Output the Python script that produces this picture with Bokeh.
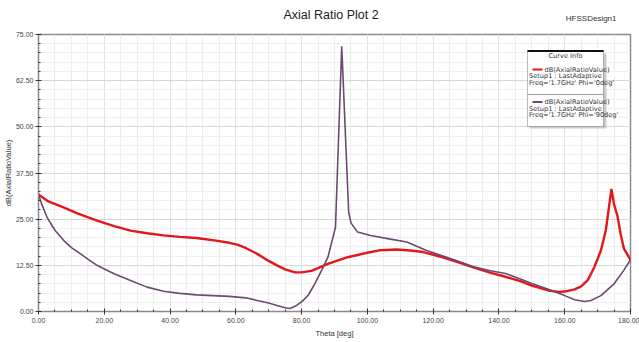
from bokeh.plotting import figure
from bokeh.models import (FixedTicker, PrintfTickFormatter, Label, BoxAnnotation, Range1d)
from bokeh.embed import file_html
from bokeh.resources import INLINE

# Data (theta in deg, dB(AxialRatioValue))
theta_phi0 = [0, 3, 7.6, 12, 17.8, 23, 28, 33, 38, 43, 48, 54, 58, 60.4, 63, 66.5, 70, 72.5, 75, 78, 80,
              83, 88, 94, 100, 104, 109, 113, 117, 122, 127, 132, 137, 142, 146.5, 150, 155, 158, 160,
              163, 165, 167, 169, 171, 172.5, 174.2, 175, 176, 177, 178, 180]
ar_phi0 = [31.7, 29.8, 28.2, 26.5, 24.6, 23.1, 21.9, 21.2, 20.6, 20.2, 19.9, 19.2, 18.6, 18.1, 17.2, 15.6,
           13.7, 12.5, 11.4, 10.6, 10.6, 11.0, 12.9, 14.7, 15.9, 16.6, 16.8, 16.5, 16.1, 14.9, 13.5, 12.0,
           10.6, 9.4, 8.2, 7.0, 5.7, 5.3, 5.4, 6.0, 6.8, 8.5, 12.0, 16.5, 22.0, 33.2, 29.0, 26.0, 21.0,
           17.0, 14.0]

theta_phi90 = [0, 1, 2.6, 5, 7.7, 10, 12.8, 15, 17.8, 20, 23, 28, 33, 38, 43, 48, 53, 58, 63, 66.5, 70,
               72.5, 75, 76.5, 78, 80, 82, 84, 86, 88, 90.3, 92.2, 94.3, 95, 97, 101, 107, 112, 118, 123,
               127, 132, 137, 142, 146.5, 150, 155, 160, 163, 166, 168, 171, 175, 178, 180]
ar_phi90 = [31.7, 29.0, 25.5, 22.0, 19.2, 17.3, 15.6, 14.2, 12.5, 11.5, 10.2, 8.4, 6.6, 5.5, 4.9, 4.5,
            4.3, 4.1, 3.7, 3.0, 2.3, 1.6, 1.0, 0.8, 1.4, 2.6, 4.4, 7.5, 11.0, 14.7, 22.8, 71.8, 27.0,
            24.0, 21.5, 20.6, 19.6, 18.8, 16.5, 15.0, 13.8, 12.2, 11.1, 10.3, 8.8, 7.6, 6.0, 4.3, 3.2,
            2.7, 3.0, 4.3, 7.5, 11.2, 14.0]

x_major = [0, 20, 40, 60, 80, 100, 120, 140, 160, 180]
x_minor = [v for v in range(0, 181, 5)]
y_major = [0, 12.5, 25, 37.5, 50, 62.5, 75]
y_minor = [i * 2.5 for i in range(0, 31)]

title_text = "Axial Ratio Plot 2"
design_text = "HFSSDesign1"
x_label = "Theta [deg]"
y_label = "dB(AxialRatioValue)"
legend_title = "Curve Info"
legend_lines_0 = ["dB(AxialRatioValue)", "Setup1 : LastAdaptive", "Freq='1.7GHz' Phi='0deg'"]
legend_lines_90 = ["dB(AxialRatioValue)", "Setup1 : LastAdaptive", "Freq='1.7GHz' Phi='90deg'"]

RED = "#e3161c"
PURPLE = "#6a4a6e"
FONT = "Liberation Sans"
LFONT = "DejaVu Sans"

p = figure(width=639, height=342, output_backend="svg", toolbar_location=None,
           x_range=Range1d(0, 180), y_range=Range1d(0, 75),
           min_border_left=38, min_border_right=9, min_border_top=34, min_border_bottom=31)
p.background_fill_color = "white"
p.border_fill_color = "white"
p.outline_line_color = "#8a8a8a"
p.outline_line_width = 1.5

# title
p.title.text = title_text
p.title.align = "left"
p.title.offset = 245
p.title.text_font = FONT
p.title.text_font_size = "12.5px"
p.title.text_font_style = "normal"
p.title.text_color = "#222222"
p.title.standoff = 8

# axes
p.xaxis.ticker = FixedTicker(ticks=x_major, minor_ticks=x_minor)
p.yaxis.ticker = FixedTicker(ticks=y_major, minor_ticks=y_minor)
for ax in (p.xaxis, p.yaxis):
    ax.formatter = PrintfTickFormatter(format="%.2f")
    ax.major_label_text_font = FONT
    ax.major_label_text_font_size = "7px"
    ax.major_label_text_color = "#444444"
    ax.axis_line_color = "#8a8a8a"
    ax.major_tick_line_color = "#333333"
    ax.minor_tick_line_color = "#333333"
    ax.major_tick_in = 3
    ax.major_tick_out = 3
    ax.minor_tick_in = 2
    ax.minor_tick_out = 0
    ax.axis_label_text_font = FONT
    ax.axis_label_text_font_size = "7.5px"
    ax.axis_label_text_font_style = "normal"
    ax.axis_label_text_color = "#333333"
p.xaxis.major_label_standoff = 3
p.xaxis.axis_label = x_label
p.xaxis.axis_label_standoff = 3
p.yaxis.major_label_standoff = 2
p.yaxis.axis_label = y_label
p.yaxis.axis_label_standoff = 0

# grid
p.xgrid.ticker = FixedTicker(ticks=x_major, minor_ticks=x_minor)
p.ygrid.ticker = FixedTicker(ticks=y_major, minor_ticks=y_minor)
p.xgrid.grid_line_color = "#e2e2e2"
p.ygrid.grid_line_color = "#d6d6d6"
p.xgrid.minor_grid_line_color = "#ededed"
p.ygrid.minor_grid_line_color = "#efefef"

# curves
p.line(theta_phi0, ar_phi0, line_color=RED, line_width=2.4)
p.line(theta_phi90, ar_phi90, line_color=PURPLE, line_width=1.6)

# "Curve Info" box (screen units relative to the plot frame)
def sbox(left, right, bottom, top, **kw):
    p.add_layout(BoxAnnotation(left=left, right=right, bottom=bottom, top=top,
                               left_units="screen", right_units="screen",
                               bottom_units="screen", top_units="screen", **kw))

def slabel(x, y, text, size="6.6px", align="left", font=LFONT):
    p.add_layout(Label(x=x, y=y, x_units="screen", y_units="screen", text=text,
                       text_font=font, text_font_size=size, text_color="#333333",
                       text_align=align, text_baseline="middle"))

sbox(491, 568, 183, 258, fill_color="#bdbdbd", fill_alpha=0.8, line_alpha=0)  # shadow
sbox(489, 565, 185, 261, fill_color="white", fill_alpha=1.0, line_color="#222222", line_width=1)
sbox(489, 565, 259.5, 261.5, fill_color="#111111", fill_alpha=1.0, line_alpha=0)  # thick top edge
sbox(489, 565, 216.6, 217.4, fill_color="#9a9a9a", fill_alpha=1.0, line_alpha=0)  # separator

slabel(527, 255.5, legend_title, size="6.6px", align="center")
group_y = [(242.0, legend_lines_0, RED), (209.5, legend_lines_90, PURPLE)]
for y0, lines, col in group_y:
    sbox(494, 504, y0 - 0.9, y0 + 0.9, fill_color=col, fill_alpha=1.0, line_alpha=0)
    slabel(506, y0, lines[0])
    slabel(490.5, y0 - 6.6, lines[1])
    slabel(490.5, y0 - 13.2, lines[2])

p.add_layout(Label(x=578, y=16, x_units="screen", y_units="screen", text=design_text,
                   text_font=FONT, text_font_size="8px", text_color="#333333",
                   text_align="right", text_baseline="middle"), "above")

open("out.html", "w").write(file_html(p, INLINE))
